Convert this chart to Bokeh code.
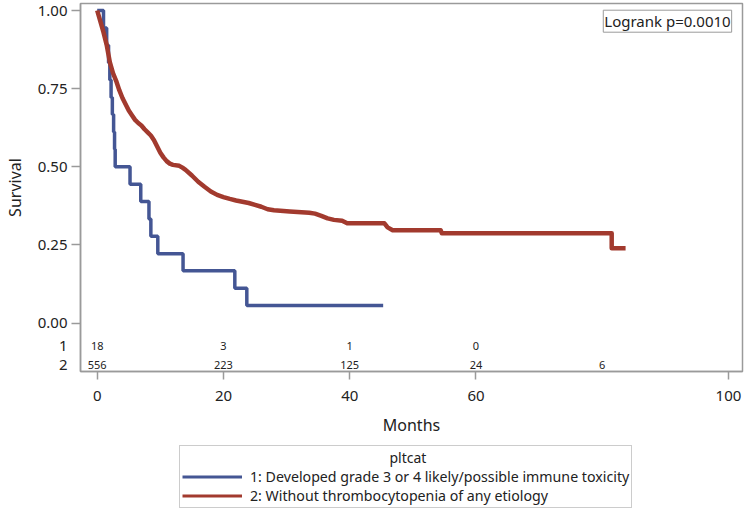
from bokeh.plotting import figure
from bokeh.layouts import column
from bokeh.models import (FixedTicker, Legend, LegendItem, Label, Range1d, ColumnDataSource,
                          NumeralTickFormatter, LinearAxis)
from bokeh.embed import file_html
from bokeh.resources import INLINE
from bokeh.core.properties import value

# ---- data ----
blue_time = [0, 1.0, 1.5, 1.8, 2.0, 2.2, 2.4, 2.6, 2.75, 2.85, 5.2, 6.9, 8.2, 8.5, 9.6, 13.6, 21.8, 23.7, 45.3]
blue_surv = [1.0, 0.944, 0.889, 0.833, 0.778, 0.722, 0.667, 0.611, 0.556, 0.5,
             0.444, 0.389, 0.333, 0.278, 0.222, 0.167, 0.111, 0.056, 0.056]

red_time = [0, 0.5, 1.0, 1.5, 2.0, 2.5, 3.0, 3.5, 4.0, 4.5, 5.0, 5.5, 6.0, 6.5, 7.0, 7.5, 8.0, 8.5,
            9.0, 9.5, 10.0, 10.5, 11.0, 11.5, 12.0, 13.0, 13.5, 14.0, 15.0, 16.0, 17.0, 18.0, 19.0,
            20.0, 21.0, 22.0, 23.0, 24.0, 25.0, 26.0, 27.0, 28.0, 30.5, 33.6, 34.5, 35.5, 36.5, 37.5,
            38.8, 39.6, 45.5, 46.0, 46.8, 54.4, 54.6, 81.5, 81.5, 83.7]
red_surv = [1.0, 0.965, 0.93, 0.89, 0.835, 0.80, 0.775, 0.745, 0.72, 0.70, 0.68, 0.665, 0.65, 0.64,
            0.632, 0.62, 0.61, 0.60, 0.585, 0.565, 0.545, 0.53, 0.518, 0.51, 0.506, 0.503, 0.497,
            0.49, 0.472, 0.452, 0.436, 0.421, 0.41, 0.403, 0.397, 0.392, 0.388, 0.384, 0.378, 0.372,
            0.364, 0.361, 0.357, 0.353, 0.35, 0.343, 0.335, 0.33, 0.327, 0.319, 0.319, 0.306, 0.297,
            0.297, 0.287, 0.287, 0.239, 0.239]

risk_time_1 = [0, 20, 40, 60]
risk_count_1 = ["18", "3", "1", "0"]
risk_time_2 = [0, 20, 40, 60, 80]
risk_count_2 = ["556", "223", "125", "24", "6"]
risk_row_names = ["1", "2"]

x_ticks = [0, 20, 40, 60, 100]
y_ticks = [0, 0.25, 0.5, 0.75, 1.0]

legend_title = "pltcat"
label_1 = "1: Developed grade 3 or 4 likely/possible immune toxicity"
label_2 = "2: Without thrombocytopenia of any etiology"
logrank_text = "Logrank p=0.0010"

# ---- styling ----
BLUE = "#445694"
RED = "#A23A2E"
FRAME = "#9a9a9a"
TXT = "#222222"
FONT = "Noto Sans"

row1_y = -0.0742
row2_y = -0.1334

p = figure(width=746, height=440, output_backend="svg", toolbar_location=None,
           x_range=Range1d(-2.645, 102.22), y_range=Range1d(-0.1552, 1.0224),
           x_axis_location="below", y_axis_location=None,
           min_border_left=80, min_border_right=4, min_border_top=3, min_border_bottom=69)
p.background_fill_color = "white"
p.border_fill_color = "white"
p.outline_line_color = FRAME
p.outline_line_width = 1.5
p.xgrid.visible = False
p.ygrid.visible = False

r_blue = p.step(blue_time, blue_surv, mode="after", line_color=BLUE, line_width=3.5)
r_red = p.line(red_time, red_surv, line_color=RED, line_width=4.5, line_join="round")

# at-risk table inside the frame
src1 = ColumnDataSource(dict(x=risk_time_1, y=[row1_y] * len(risk_time_1), t=risk_count_1))
src2 = ColumnDataSource(dict(x=risk_time_2, y=[row2_y] * len(risk_time_2), t=risk_count_2))
for s in (src1, src2):
    p.text(x="x", y="y", text="t", source=s, text_align="center", text_baseline="middle",
           text_font=value(FONT), text_font_size="11px", text_color=TXT)

# inner y axis: tick marks only
tick_axis = LinearAxis(ticker=FixedTicker(ticks=y_ticks),
                       major_label_overrides={t: "" for t in y_ticks},
                       major_label_standoff=0, major_label_text_font_size="1px",
                       major_tick_out=9, major_tick_in=0, minor_tick_line_color=None,
                       axis_line_color=FRAME, axis_line_width=1.5,
                       major_tick_line_color=FRAME, major_tick_line_width=1.5)
p.add_layout(tick_axis, "left")

# outer y axis: tick labels, at-risk row names and the axis title
overrides = {row1_y: risk_row_names[0], row2_y: risk_row_names[1]}
label_axis = LinearAxis(ticker=FixedTicker(ticks=[row2_y, row1_y] + y_ticks),
                        formatter=NumeralTickFormatter(format="0.00"),
                        major_label_overrides=overrides,
                        major_label_standoff=4, major_tick_out=0, major_tick_in=0,
                        minor_tick_line_color=None, axis_line_color=None,
                        major_tick_line_color=None,
                        major_label_text_font=FONT, major_label_text_font_size="15px",
                        major_label_text_color=TXT,
                        axis_label="Survival", axis_label_standoff=9,
                        axis_label_text_font=FONT, axis_label_text_font_size="16px",
                        axis_label_text_font_style="normal", axis_label_text_color=TXT)
p.add_layout(label_axis, "left")

xa = p.xaxis[0]
xa.ticker = FixedTicker(ticks=x_ticks)
xa.axis_line_color = FRAME
xa.axis_line_width = 1.5
xa.major_tick_line_color = FRAME
xa.major_tick_line_width = 1.5
xa.major_tick_out = 8
xa.major_tick_in = 0
xa.minor_tick_line_color = None
xa.major_label_text_font = FONT
xa.major_label_text_font_size = "15px"
xa.major_label_text_color = TXT
xa.major_label_standoff = 11
xa.axis_label = "Months"
xa.axis_label_standoff = 10
xa.axis_label_text_font = FONT
xa.axis_label_text_font_size = "16px"
xa.axis_label_text_font_style = "normal"
xa.axis_label_text_color = TXT

# logrank box
p.add_layout(Label(x=100.5, y=1.001, text=logrank_text, text_align="right", text_baseline="top",
                   text_font=FONT, text_font_size="15px", text_color=TXT,
                   border_line_color=FRAME, border_line_width=1, background_fill_color="white",
                   padding=1))

# ---- legend panel (frame aligned with the chart frame) ----
q = figure(width=746, height=69, output_backend="svg", toolbar_location=None,
           x_range=Range1d(-2.645, 102.22), y_range=Range1d(0, 1),
           x_axis_location=None, y_axis_location=None,
           min_border_left=80, min_border_right=4, min_border_top=0, min_border_bottom=0)
q.outline_line_color = None
q.xgrid.visible = False
q.ygrid.visible = False
q.background_fill_color = "white"
q.border_fill_color = "white"
# single-point lines: nothing drawn in the panel, only their legend swatches
lb = q.line(x=blue_time[:1], y=blue_surv[:1], line_color=BLUE, line_width=3)
lr = q.line(x=red_time[:1], y=red_surv[:1], line_color=RED, line_width=3)

title_pad = "\u00a0" * 57
legend = Legend(items=[LegendItem(label=label_1, renderers=[lb]),
                       LegendItem(label=label_2, renderers=[lr])],
                title=title_pad + legend_title, location=(99, 1), orientation="vertical",
                border_line_color=FRAME, border_line_width=1,
                label_text_font=FONT, label_text_font_size="14.2px", label_text_color=TXT,
                title_text_font=FONT, title_text_font_size="14px", title_text_color=TXT,
                title_text_font_style="normal", title_standoff=0,
                glyph_width=60, glyph_height=19, label_height=19, label_standoff=8,
                spacing=0, padding=2, margin=0)
q.add_layout(legend)

layout = column(p, q, spacing=0)
open("out.html", "w").write(file_html(layout, INLINE))
